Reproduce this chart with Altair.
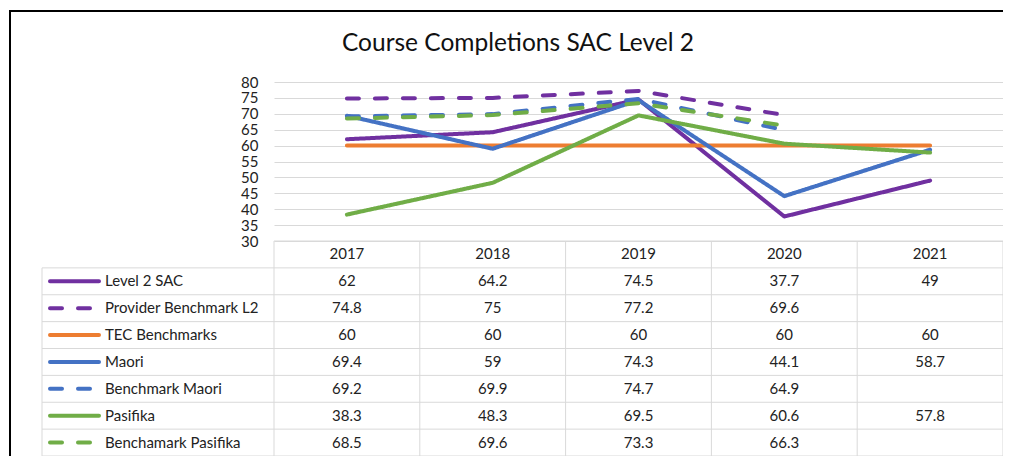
import altair as alt
import pandas as pd

# ---------------- data ----------------
title_text = "Course Completions SAC Level 2"
years = ["2017", "2018", "2019", "2020", "2021"]
series = [
    "Level 2 SAC",
    "Provider Benchmark L2",
    "TEC Benchmarks",
    "Maori",
    "Benchmark Maori",
    "Pasifika",
    "Benchamark Pasifika",
]
level2_sac = [62, 64.2, 74.5, 37.7, 49]
provider_benchmark_l2 = [74.8, 75, 77.2, 69.6, None]
tec_benchmarks = [60, 60, 60, 60, 60]
maori = [69.4, 59, 74.3, 44.1, 58.7]
benchmark_maori = [69.2, 69.9, 74.7, 64.9, None]
pasifika = [38.3, 48.3, 69.5, 60.6, 57.8]
benchmark_pasifika = [68.5, 69.6, 73.3, 66.3, None]

values = [level2_sac, provider_benchmark_l2, tec_benchmarks, maori,
          benchmark_maori, pasifika, benchmark_pasifika]
colors = ["#7030A0", "#7030A0", "#ED7D31", "#4472C4", "#4472C4", "#70AD47", "#70AD47"]
dashes = [[1, 0], [12, 16], [1, 0], [1, 0], [12, 16], [1, 0], [12, 16]]
y_ticks = [30, 35, 40, 45, 50, 55, 60, 65, 70, 75, 80]

# ---------------- layout ----------------
PLOT_W = 729
LINE_H = 159
N_ROWS = 8
TABLE_H = 215
H = LINE_H + TABLE_H
FONT = "Lato"
TXT = "#222222"
GRID = "#d9d9d9"

# ---------------- tables ----------------
line_rows, cell_rows, legend_rows = [], [], []
for si, (name, vals) in enumerate(zip(series, values)):
    legend_rows.append({"series": name, "rc": si + 1.5})
    for yi, v in enumerate(vals):
        if v is None:
            continue
        line_rows.append({"idx": yi, "year": years[yi], "series": name, "value": v})
        cell_rows.append({"idx": yi, "series": name, "rc": si + 1.5, "label": f"{v:g}"})
line_df = pd.DataFrame(line_rows)
cell_df = pd.DataFrame(cell_rows)
legend_df = pd.DataFrame(legend_rows)
header_df = pd.DataFrame({"idx": list(range(len(years))), "year": years, "rc": 0.5})
hrule_df = pd.DataFrame({"r": list(range(1, N_ROWS + 1))})
vrule_df = pd.DataFrame({"b": [i - 0.5 for i in range(len(years) + 1)]})
top_df = pd.DataFrame({"r": [0]})
left_df = pd.DataFrame({"r0": [1], "r1": [N_ROWS]})
title_df = pd.DataFrame({"t": [title_text]})

xs = alt.Scale(domain=[-0.5, len(years) - 0.5])
ts = alt.Scale(domain=[0, N_ROWS], range=[LINE_H, H])
color = alt.Color("series:N", scale=alt.Scale(domain=series, range=colors), legend=None)
dash = alt.StrokeDash("series:N", scale=alt.Scale(domain=series, range=dashes), legend=None)

lines = alt.Chart(line_df).mark_line(strokeWidth=4, strokeCap="round", strokeJoin="round").encode(
    x=alt.X("idx:Q", scale=xs, axis=None),
    y=alt.Y("value:Q",
            scale=alt.Scale(domain=[30, 80], range=[LINE_H, 0]),
            axis=alt.Axis(values=y_ticks, title=None, grid=True, gridColor=GRID, gridWidth=1,
                          domain=False, ticks=False, labelPadding=16, labelFontSize=15,
                          labelFont=FONT, labelColor=TXT)),
    color=color,
    strokeDash=dash,
    detail="series:N",
)

hrules = alt.Chart(hrule_df).mark_rule(color=GRID, strokeWidth=1).encode(
    x=alt.value(-232), x2=alt.value(PLOT_W),
    y=alt.Y("r:Q", scale=ts, axis=None),
)
toprule = alt.Chart(top_df).mark_rule(color=GRID, strokeWidth=1).encode(
    x=alt.value(0), x2=alt.value(PLOT_W),
    y=alt.Y("r:Q", scale=ts, axis=None),
)
vrules = alt.Chart(vrule_df).mark_rule(color=GRID, strokeWidth=1).encode(
    x=alt.X("b:Q", scale=xs, axis=None),
    y=alt.value(LINE_H), y2=alt.value(H),
)
leftrule = alt.Chart(left_df).mark_rule(color=GRID, strokeWidth=1).encode(
    x=alt.value(-232),
    y=alt.Y("r0:Q", scale=ts, axis=None), y2="r1:Q",
)

header = alt.Chart(header_df).mark_text(font=FONT, fontSize=15, color=TXT, baseline="middle").encode(
    x=alt.X("idx:Q", scale=xs, axis=None),
    y=alt.Y("rc:Q", scale=ts, axis=None),
    text="year:N",
)
cells = alt.Chart(cell_df).mark_text(font=FONT, fontSize=15, color=TXT, baseline="middle").encode(
    x=alt.X("idx:Q", scale=xs, axis=None),
    y=alt.Y("rc:Q", scale=ts, axis=None),
    text="label:N",
)
legend_sym = alt.Chart(legend_df).mark_rule(strokeWidth=4, strokeCap="round").encode(
    x=alt.value(-224), x2=alt.value(-175),
    y=alt.Y("rc:Q", scale=ts, axis=None),
    color=color,
    strokeDash=dash,
)
legend_txt = alt.Chart(legend_df).mark_text(font=FONT, fontSize=15, color=TXT, align="left",
                                             baseline="middle").encode(
    x=alt.value(-169),
    y=alt.Y("rc:Q", scale=ts, axis=None),
    text="series:N",
)
title = alt.Chart(title_df).mark_text(font=FONT, fontSize=24.5, color="#111111", align="center",
                                       baseline="alphabetic").encode(
    x=alt.value(244), y=alt.value(-31), text="t:N",
)
frame_top = alt.Chart(top_df).mark_rule(color="#000000", strokeWidth=2).encode(
    x=alt.value(-265), x2=alt.value(PLOT_W + 2), y=alt.value(-71),
)
frame_left = alt.Chart(top_df).mark_rule(color="#000000", strokeWidth=2).encode(
    x=alt.value(-264), y=alt.value(-72), y2=alt.value(H),
)

chart = alt.layer(
    hrules, toprule, vrules, leftrule, lines, header, cells, legend_sym, legend_txt,
    title, frame_top, frame_left
).resolve_scale(y="independent").properties(
    width=PLOT_W,
    height=H,
    autosize=alt.AutoSizeParams(type="none"),
    padding={"left": 266, "top": 74, "right": 0, "bottom": 0},
    background="white",
).configure_view(strokeWidth=0)

chart.save("out.html", embed_options={"renderer": "svg", "actions": False})
